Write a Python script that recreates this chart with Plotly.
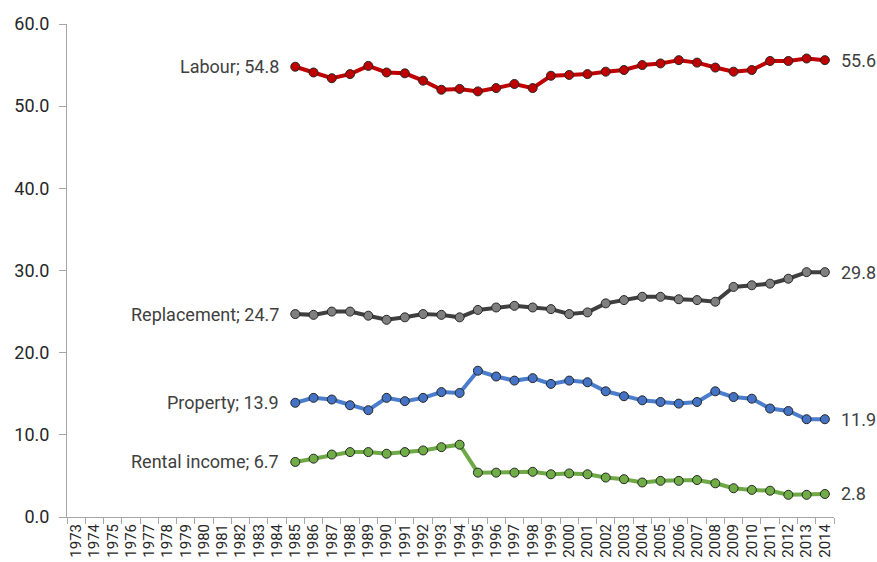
import plotly.graph_objects as go

years_all = [str(y) for y in range(1973, 2015)]
years = [str(y) for y in range(1985, 2015)]

labour = [54.8, 54.1, 53.4, 53.9, 54.9, 54.1, 54.0, 53.1, 52.0, 52.1, 51.8, 52.2, 52.7, 52.2, 53.7, 53.8,
          53.9, 54.2, 54.4, 55.0, 55.2, 55.6, 55.3, 54.7, 54.2, 54.4, 55.5, 55.5, 55.8, 55.6]
replacement = [24.7, 24.6, 25.0, 25.0, 24.5, 24.0, 24.3, 24.7, 24.6, 24.3, 25.2, 25.5, 25.7, 25.5, 25.3, 24.7,
               24.9, 26.0, 26.4, 26.8, 26.8, 26.5, 26.4, 26.2, 28.0, 28.2, 28.4, 29.0, 29.8, 29.8]
property_ = [13.9, 14.5, 14.3, 13.6, 13.0, 14.5, 14.1, 14.5, 15.2, 15.1, 17.8, 17.1, 16.6, 16.9, 16.2, 16.6,
             16.4, 15.3, 14.7, 14.2, 14.0, 13.8, 14.0, 15.3, 14.6, 14.4, 13.2, 12.9, 11.9, 11.9]
rental = [6.7, 7.1, 7.6, 7.9, 7.9, 7.7, 7.9, 8.1, 8.5, 8.8, 5.4, 5.4, 5.4, 5.5, 5.2, 5.3,
          5.2, 4.8, 4.6, 4.2, 4.4, 4.4, 4.5, 4.1, 3.5, 3.3, 3.2, 2.7, 2.7, 2.8]

series_names = ["Labour", "Replacement", "Property", "Rental income"]
series_values = [labour, replacement, property_, rental]
line_colors = ["#C00000", "#3F3F3F", "#4A7DCC", "#6DAA45"]
marker_colors = ["#C00000", "#7F7F7F", "#4472C4", "#70AD47"]

FONT = "Roboto"
TEXT = "#404040"

fig = go.Figure()
annotations = []
first_idx = years_all.index(years[0])
last_idx = years_all.index(years[-1])
for name, vals, lc, mc in zip(series_names, series_values, line_colors, marker_colors):
    fig.add_trace(go.Scatter(
        x=years, y=vals, mode="lines+markers", name=name,
        line=dict(color=lc, width=4),
        marker=dict(size=9, color=mc, line=dict(color="#262626", width=1)),
        showlegend=False,
    ))
    annotations.append(dict(x=first_idx, y=vals[0], xref="x", yref="y",
                            text=f"{name}; {vals[0]:.1f}", showarrow=False,
                            xanchor="right", yanchor="middle", xshift=-14,
                            font=dict(family=FONT, size=18, color=TEXT)))
    annotations.append(dict(x=last_idx, y=vals[-1], xref="x", yref="y",
                            text=f"{vals[-1]:.1f}", showarrow=False,
                            xanchor="left", yanchor="middle", xshift=14,
                            font=dict(family=FONT, size=18, color=TEXT)))

fig.update_layout(
    width=877, height=562,
    margin=dict(l=67, r=43, t=24, b=45),
    paper_bgcolor="white", plot_bgcolor="white",
    annotations=annotations,
    font=dict(family=FONT, color=TEXT),
)
fig.update_xaxes(
    type="category", categoryorder="array", categoryarray=years_all,
    range=[-0.5, len(years_all) - 0.5], automargin=False,
    tickvals=years_all, ticktext=years_all,
    tickangle=-90, tickson="boundaries", ticks="outside", ticklen=6,
    tickcolor="#A6A6A6", showline=True, linecolor="#A6A6A6", linewidth=1,
    showgrid=False, zeroline=False,
    tickfont=dict(family=FONT, size=15, color="#262626"),
)
fig.update_yaxes(
    range=[0, 60], dtick=10, tick0=0, tickformat=".1f", automargin=False,
    ticks="outside", ticklen=7, tickcolor="#A6A6A6", ticklabelstandoff=6,
    showline=True, linecolor="#A6A6A6", linewidth=1,
    showgrid=False, zeroline=False,
    tickfont=dict(family=FONT, size=18, color="#262626"),
)

fig.write_html("out.html", config={"displayModeBar": False},
               post_script="document.body.style.margin='0';document.body.style.padding='0';")
